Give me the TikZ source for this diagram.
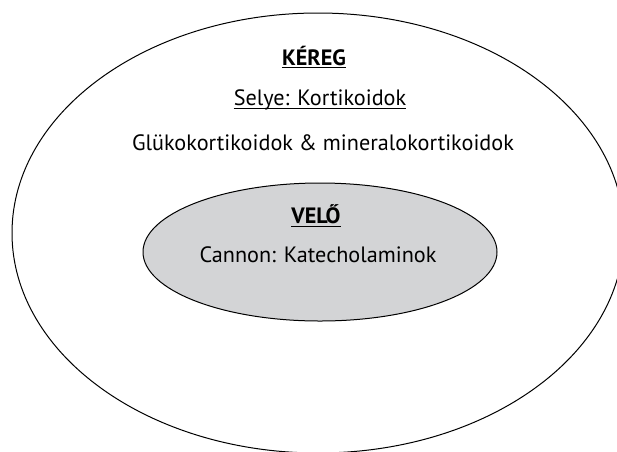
\documentclass[tikz,border=0pt]{standalone}
\usepackage{fontspec}
\setmainfont{PT Sans}
\usetikzlibrary{positioning}

\definecolor{medulla}{RGB}{211,212,214}
\tikzset{
  label text/.style={anchor=base, inner sep=0pt, font=\fontsize{22.2}{26}\selectfont},
  title text/.style={label text, font=\fontsize{22.2}{26}\selectfont\bfseries},
  underline/.style={line width=0.9pt}
}

\begin{document}
\begin{tikzpicture}[x=1pt, y=-1pt]
      \useasboundingbox (0,0) rectangle (617,451);
      \clip (0,0) rectangle (617,451);

      % Outer ellipse: cortex
      \draw[line width=1pt] (318,233) ellipse [x radius=306, y radius=220];
      \node[title text] (kereg) at (314,65.5) {KÉREG};
      \node[label text] (selye) at (320,105) {Selye: Kortikoidok};
      \node[label text] (gluko) at (323,150) {Glükokortikoidok \& mineralokortikoidok};
      \draw[underline] ([yshift=-2pt]kereg.base west) -- ([yshift=-2pt]kereg.base east);
      \draw[underline] ([yshift=-3.5pt]selye.base west) -- ([yshift=-3.5pt]selye.base east);

      % Inner ellipse: medulla
      \draw[line width=1pt, fill=medulla] (320,252) ellipse [x radius=177, y radius=69];
      \node[title text] (velo) at (316,223) {VELŐ};
      \node[label text] (cannon) at (318,262) {Cannon: Katecholaminok};
      \draw[underline] ([yshift=-3pt]velo.base west) -- ([yshift=-3pt]velo.base east);
\end{tikzpicture}
\end{document}
